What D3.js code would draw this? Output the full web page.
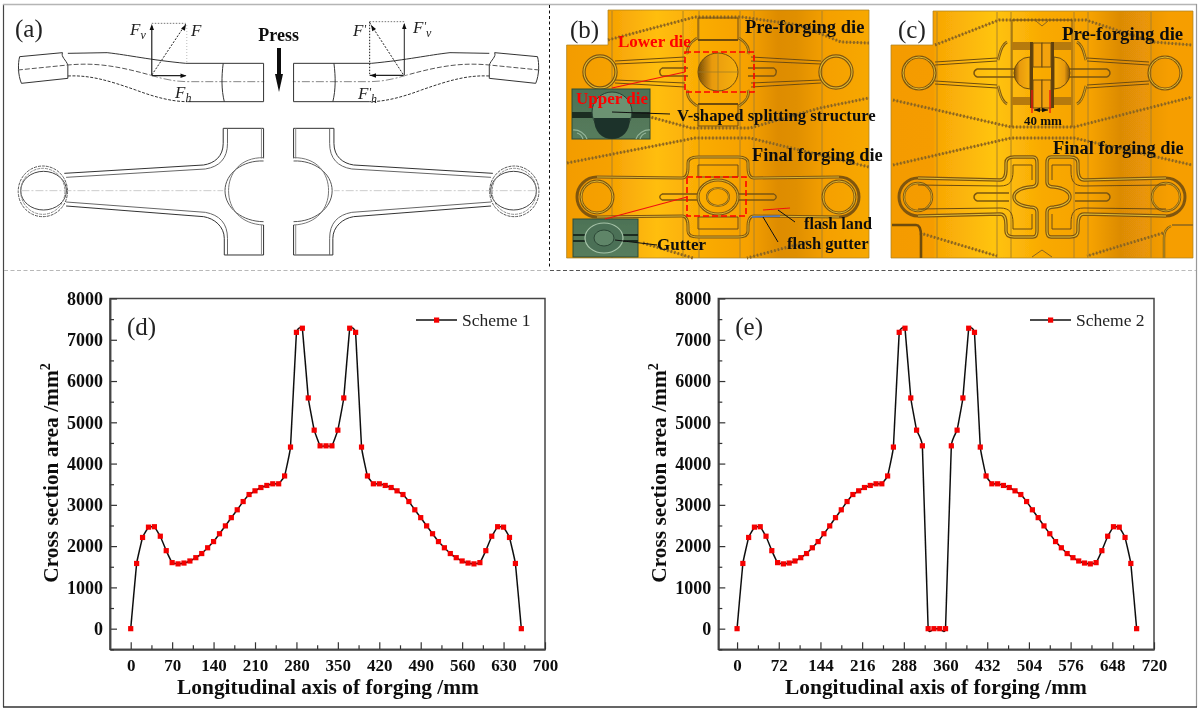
<!DOCTYPE html>
<html><head><meta charset="utf-8">
<script src="https://cdn.jsdelivr.net/npm/d3@7"></script>
<style>
html,body{margin:0;padding:0;background:#fff}
svg{display:block}
text{font-family:"Liberation Serif","Times New Roman",serif}
</style></head><body><svg id="c" width="1200" height="712"></svg>
<script>
// ---------- chart data ----------
const scheme1X=[0,10,20,30,40,50,60,70,80,90,100,110,120,130,140,150,160,170,180,190,200,210,220,230,240,250,260,270,280,290,300,310,320,330,340,350,360,370,380,390,400,410,420,430,440,450,460,470,480,490,500,510,520,530,540,550,560,570,580,590,600,610,620,630,640,650,660];
const scheme1Area=[0,1580,2210,2460,2470,2240,1890,1600,1570,1590,1640,1720,1820,1960,2110,2300,2490,2690,2880,3080,3250,3340,3420,3470,3510,3510,3700,4400,7180,7280,5590,4810,4430,4430,4430,4810,5590,7280,7180,4400,3700,3510,3510,3470,3420,3340,3250,3080,2880,2690,2490,2300,2110,1960,1820,1720,1640,1590,1570,1600,1890,2240,2470,2460,2210,1580,0];
const scheme2X=[0,10,20,30,40,50,60,70,80,90,100,110,120,130,140,150,160,170,180,190,200,210,220,230,240,250,260,270,280,290,300,310,320,330,340,350,360,370,380,390,400,410,420,430,440,450,460,470,480,490,500,510,520,530,540,550,560,570,580,590,600,610,620,630,640,650,660,670,680,690];
const scheme2Area=[0,1580,2210,2460,2470,2240,1890,1600,1570,1590,1640,1720,1820,1960,2110,2300,2490,2690,2880,3080,3250,3340,3420,3470,3510,3510,3700,4400,7180,7280,5590,4810,4430,0,0,0,0,4430,4810,5590,7280,7180,4400,3700,3510,3510,3470,3420,3340,3250,3080,2880,2690,2490,2300,2110,1960,1820,1720,1640,1590,1570,1600,1890,2240,2470,2460,2210,1580,0];
const yTicks=[0,1000,2000,3000,4000,5000,6000,7000,8000];
const yMinor=[-500,500,1500,2500,3500,4500,5500,6500,7500];
const xTicks1=[0,70,140,210,280,350,420,490,560,630,700];
const xMinor1=[35,105,175,245,315,385,455,525,595,665];
const xTicks2=[0,72,144,216,288,360,432,504,576,648,720];
const xMinor2=[36,108,180,252,324,396,468,540,612,684];

const svg=d3.select('#c');
const defs=svg.append('defs');
defs.append('filter').attr('id','soft').attr('x','-2%').attr('y','-2%').attr('width','104%').attr('height','104%')
  .append('feGaussianBlur').attr('stdDeviation',0.5);
const root=svg.append('g').attr('filter','url(#soft)');

function grad(id,x1,x2,stops){
  const g=defs.append('linearGradient').attr('id',id).attr('gradientUnits','userSpaceOnUse')
    .attr('x1',x1).attr('x2',x2).attr('y1',0).attr('y2',0);
  stops.forEach(s=>g.append('stop').attr('offset',s[0]).attr('stop-color',s[1]));
}
grad('gb',566,869,[[0,'#F39C02'],[.14,'#F6A104'],[.3,'#FFBE0E'],[.42,'#FBAE06'],[.6,'#F6A102'],[.7,'#DE8C06'],[.76,'#E08F05'],[.86,'#F5A003'],[1,'#F7A805']]);
grad('gc',891,1193,[[0,'#F49B02'],[.14,'#F59C02'],[.15,'#F8A705'],[.34,'#FFC40C'],[.5,'#F9AA04'],[.66,'#F6A203'],[.76,'#DC8B06'],[.84,'#E99507'],[.92,'#F69E02'],[1,'#F69E02']]);
const gi=defs.append('linearGradient').attr('id','gi').attr('x1',0).attr('x2',0).attr('y1',0).attr('y2',1);
gi.append('stop').attr('offset',0).attr('stop-color','#4D7256');gi.append('stop').attr('offset',1).attr('stop-color','#577C5C');
const gd=defs.append('linearGradient').attr('id','gd').attr('x1',0).attr('x2',1).attr('y1',0).attr('y2',0);
gd.append('stop').attr('offset',0).attr('stop-color','#7A4F06');gd.append('stop').attr('offset',.35).attr('stop-color','#E89A08');gd.append('stop').attr('offset',1).attr('stop-color','#F7B00E');

// ---------- frame ----------
function seg(x1,y1,x2,y2,c,w,dash){root.append('line').attr('x1',x1).attr('y1',y1).attr('x2',x2).attr('y2',y2).attr('stroke',c).attr('stroke-width',w).attr('stroke-dasharray',dash||null);}
seg(3.5,4,3.5,707,'#444',1.2);seg(3,4.5,1197,4.5,'#b5b5b5',1.4);seg(1196.5,4,1196.5,707,'#999',1.2);seg(3,707,1197,707,'#333',1.4);
seg(549.5,5,549.5,268,'#111',1,'3 2.5');
seg(4,270.5,550,270.5,'#b8b8b8',1.2,'4 2.5');seg(550,270.5,1110,270.5,'#555',1.2,'4 2.5');seg(1110,270.5,1196,270.5,'#bbb',1.2,'4 2.5');

// ---------- text helper ----------
function label(x,y,s,o={}){
  return root.append('text').attr('x',x).attr('y',y).text(s)
   .attr('font-size',o.size||17).attr('font-weight',o.bold?'bold':'normal').attr('font-style',o.italic?'italic':'normal')
   .attr('fill',o.fill||'#111').attr('text-anchor',o.anchor||'start');
}

// ---------- panel (a) ----------
const aG=root.append('g');
function aHalf(tr){
  const g=aG.append('g').attr('transform',tr);
  const ln=(d,o={})=>g.append('path').attr('d',d).attr('fill','none').attr('stroke',o.c||'#333').attr('stroke-width',o.w||1)
    .attr('stroke-dasharray',o.dash||null).attr('vector-effect','non-scaling-stroke');
  ln('M55,170L175,158M190,160L300,158C360,165 420,180 520,190L738,190');
  ln('M55,170C50,190 50,225 60,250L190,235M175,158C170,170 185,180 190,195L190,235');
  ln('M190,228C250,225 300,240 380,270C430,290 480,305 525,305',{dash:'3 1.5'});
  ln('M525,305L738,305');
  ln('M50,210L190,195C260,188 320,195 420,225',{dash:'5 2',c:'#555'});
  ln('M420,225C460,238 490,245 530,245L740,245',{dash:'8 2 2 2',c:'#888'});
  ln('M625,190C620,230 620,270 628,305M738,190L738,305');
  // plan view
  ln('M180,520L570,495C600,490 625,470 625,430L625,385L738,385L738,475');
  ln('M185,532L575,507C615,500 637,475 637,430L637,385',{c:'#666'});
  ln('M732,385L732,475',{c:'#888'});
  ln('M738,483C680,480 630,520 630,572C630,625 680,665 738,665',{c:'#555'});
  ln('M738,473C672,472 640,520 640,572C640,625 672,672 738,675',{c:'#777'});
  ln('M738,675L738,765L628,765L628,715C628,680 600,655 570,650L185,618',{});
  ln('M185,606L575,637C615,645 637,670 637,715L637,765',{c:'#666'});
  ln('M732,675L732,765',{c:'#888'});
  ln('M60,572L625,572',{c:'#ccc',dash:'8 2 2 2'});
  g.append('ellipse').attr('cx',122).attr('cy',572).attr('rx',64).attr('ry',58).attr('fill','none').attr('stroke','#444').attr('vector-effect','non-scaling-stroke');
  g.append('ellipse').attr('cx',120).attr('cy',574).attr('rx',69).attr('ry',76).attr('fill','none').attr('stroke','#555').attr('stroke-dasharray','3 1').attr('vector-effect','non-scaling-stroke');
  g.append('ellipse').attr('cx',120).attr('cy',574).attr('rx',62).attr('ry',69).attr('fill','none').attr('stroke','#888').attr('stroke-dasharray','3 1').attr('vector-effect','non-scaling-stroke');
}
aHalf('scale(0.35714,0.33333)');
aHalf('translate(557.14,0) scale(-0.35714,0.33333)');
function aSeg(x1,y1,x2,y2,o={}){seg(x1/2.8,y1/3,x2/2.8,y2/3,o.c||'#222',o.w||1,o.dash);}
function head(x,y,dx,dy){const L=6,W=2.2,n=Math.hypot(dx,dy),ux=dx/n,uy=dy/n;
  root.append('path').attr('fill','#111').attr('d',`M${x},${y}L${x-L*ux-W*uy},${y-L*uy+W*ux}L${x-L*ux+W*uy},${y-L*uy-W*ux}Z`);}
aSeg(425,225,425,78,{w:1.2});aSeg(425,70,520,70,{dash:'1.5 1.5',c:'#777'});aSeg(425,225,520,72,{dash:'2 1.5'});aSeg(425,227,520,227,{w:1.2});aSeg(523,75,523,190,{dash:'1 2',c:'#bbb'});
head(151.8,24,0,-1);head(186,24.5,.5,-.85);head(186.5,75.7,1,0);
aSeg(1035,65,1035,225,{dash:'1.5 1.5'});aSeg(1035,65,1132,65,{dash:'1.5 1.5',c:'#777'});aSeg(1035,68,1130,225,{dash:'2 1.5'});aSeg(1035,226,1130,226,{w:1.2});aSeg(1132,225,1132,72,{w:1});
head(371,25,-.52,-.85);head(404.3,23,0,-1);head(370,75.5,-1,0);
function forceLabel(x,y,base,prime,sub){
  const t=root.append('text').attr('x',x).attr('y',y).attr('font-size',17).attr('font-style','italic').attr('fill','#222');
  t.append('tspan').text(base);
  if(prime)t.append('tspan').text("'").attr('dy',-3).attr('font-size',12);
  if(sub)t.append('tspan').text(sub).attr('dy',prime?7:4).attr('font-size',12);
}
forceLabel(130,35,'F',false,'v');forceLabel(191,36,'F');forceLabel(175,98,'F',false,'h');
forceLabel(353,36,'F',true);forceLabel(413,33,'F',true,'v');forceLabel(358,99,'F',true,'h');
label(278.6,41,'Press',{bold:true,size:18,anchor:'middle'});
root.append('path').attr('fill','#111').attr('d','M277,48L281,48L281,74L283,74L279,92L275,74L277,74Z');
label(15,37,'(a)',{size:25,fill:'#222'});

// ---------- panels (b), (c) ----------
function panelBg(x0,y0,x1,y1,nx,ny,fill){
  root.append('path').attr('fill',fill).attr('stroke','#A8801F').attr('stroke-width',.7)
   .attr('d',`M${nx},${y0}L${x1},${y0}L${x1},${y1}L${x0},${y1}L${x0},${ny}L${nx},${ny}Z`);
}
function verticals(xs,y0,y1){xs.forEach(x=>seg(x,y0,x,y1,'#A5802F',.9));}
const lineP=d3.line().curve(d3.curveLinear);
function hatch(pts){
  root.append('path').attr('d',lineP(pts)).attr('fill','none').attr('stroke','#B0801A').attr('stroke-width',.8);
  root.append('path').attr('d',lineP(pts)).attr('fill','none').attr('stroke','#8A6420').attr('stroke-width',3).attr('stroke-dasharray','1.6 2');
}
function ridgeIn(g,d,w){
  g.append('path').attr('d',d).attr('fill','none').attr('stroke','#80560F').attr('stroke-width',w||3.2);
  g.append('path').attr('d',d).attr('fill','none').attr('stroke','#E3C035').attr('stroke-width',(w||3.2)*.3);
}
function thin(g,d,c,w){g.append('path').attr('d',d).attr('fill','none').attr('stroke',c||'#6E4C10').attr('stroke-width',w||1);}
function circ(r,cx=0,cy=0){return `M${cx-r},${cy}A${r},${r} 0 1 1 ${cx+r},${cy}A${r},${r} 0 1 1 ${cx-r},${cy}Z`;}
function both(cx,cy,fn){
  fn(root.append('g').attr('transform',`translate(${cx},${cy})`));
  fn(root.append('g').attr('transform',`translate(${cx},${cy}) scale(-1,1)`));
}

panelBg(566.6,10,869,258,608,45,'url(#gb)');
panelBg(891,11,1193,258,933,45,'url(#gc)');
verticals([612,683,699,740,754,822],11,258);
verticals([937,997,1011,1074,1088,1151],12,258);

hatch([[608,40],[695,17],[741,17],[799,25],[841,42],[869,43]]);
hatch([[620,110],[654,118],[691,128],[750,128],[820,108],[869,98]]);
hatch([[567,163],[695,138],[750,138],[869,167]]);
hatch([[643,243],[693,258]]);hatch([[807,242],[747,258]]);
hatch([[935,45],[999,20],[1086,20],[1153,42],[1192,45]]);
hatch([[893,100],[1011,127],[1074,127],[1192,97]]);
hatch([[893,165],[1011,138],[1074,138],[1192,165]]);
hatch([[920,233],[997,256]]);hatch([[1163,233],[1087,256]]);
thin(root,'M1036,21L1042,26L1048,21M1032,257L1042,250L1052,257','#8A6420',1);

// pre-forging die (b)
both(718,72,g=>{
  ridgeIn(g,circ(16,-118,0),3.4);
  thin(g,'M-103,-11L-33,-15M-103,-8L-33,-11M-103,11L-33,15M-103,8L-33,11');
  thin(g,'M-20,-54L0,-54M-20,-54L-20,-32M-20,54L0,54M-20,54L-20,32');
  thin(g,'M-20,-32L0,-32M-20,32L0,32','#6E4C10',2);
  ridgeIn(g,'M-21,-34C-27,-30 -32,-24 -30,-18',2.6);
  ridgeIn(g,'M-21,34C-27,30 -32,24 -30,18',2.6);
  thin(g,'M-56,-4L-30,-4M-56,4L-30,4M-56,-4C-59,-2 -59,2 -56,4','#7A5510',1.4);
});
root.append('ellipse').attr('cx',718).attr('cy',72).attr('rx',20).attr('ry',19).attr('fill','url(#gd)').attr('stroke','#6E4C10');
seg(718,53,718,92,'#9a7a30',.7);seg(698,72,738,72,'#9a7a30',.7);
// final-forging die (b)
both(718,197,g=>{
  ridgeIn(g,circ(16,-121,0),3);
  ridgeIn(g,'M-121,-20L-36,-19C-31,-19 -30,-24 -30,-30L-30,-34C-30,-38 -26,-40 -20,-40L0,-40',3);
  ridgeIn(g,'M-121,20L-36,19C-31,19 -30,24 -30,30L-30,34C-30,38 -26,40 -20,40L0,40',3);
  g.append('path').attr('d','M-121,-20A20,20 0 0 0 -121,20').attr('fill','none').attr('stroke','#80560F').attr('stroke-width',3);
  thin(g,'M-20,-32L0,-32M-20,-32L-20,-20M-20,-20L0,-20M-20,32L0,32M-20,32L-20,20M-20,20L0,20');
  thin(g,'M-56,-3L-20,-3M-56,3L-20,3M-56,-3C-59,-1 -59,1 -56,3','#7A5510',1.4);
});
{const g=root.append('g').attr('transform','translate(718,197)');
 ridgeIn(g,'M-20,0A20,17 0 1 1 20,0A20,17 0 1 1 -20,0Z',3);ridgeIn(g,'M-11,0A11,9 0 1 1 11,0A11,9 0 1 1 -11,0Z',2);}

// pre-forging die (c)
both(1042,73,g=>{
  ridgeIn(g,circ(16,-123,0),3.2);
  thin(g,'M-107,-11L-45,-15M-107,-8L-45,-12M-107,11L-45,15M-107,8L-45,12');
  ridgeIn(g,'M-35,-31C-42,-27 -42,-18 -44,-13',2.6);ridgeIn(g,'M-35,31C-42,27 -42,18 -44,13',2.6);
  thin(g,'M-65,-4L-27,-4M-65,4L-27,4M-65,-4C-69,-2 -69,2 -65,4','#7A5510',1.4);
  thin(g,'M-30,-53L-30,54','#7A5510',1);
  thin(g,'M-30,-53L0,-53','#7A5510',1);
  g.append('rect').attr('x',-30).attr('y',-31).attr('width',18).attr('height',8).attr('fill','#B67A0A');
  g.append('rect').attr('x',-30).attr('y',24).attr('width',18).attr('height',8).attr('fill','#B67A0A');
  g.append('path').attr('d','M-12,-16A16,16 0 0 0 -12,16Z').attr('fill','url(#gd)').attr('stroke','#6E4C10');
  g.append('rect').attr('x',-12).attr('y',-31).attr('width',3).attr('height',66).attr('fill','#5E3F0A');
  g.append('rect').attr('x',-9).attr('y',-30).attr('width',9).attr('height',24).attr('fill','#F3A20A').attr('stroke','#6E4C10');
  g.append('rect').attr('x',-9).attr('y',7).attr('width',9).attr('height',28).attr('fill','#F3A20A').attr('stroke','#6E4C10');
});
seg(1032,90,1032,113,'#F01010',1.3);seg(1050,90,1050,113,'#F01010',1.3);
seg(1034,110,1048,110,'#111',1);head(1034,110,-1,0);head(1048,110,1,0);
// final-forging die (c)
both(1042,197,g=>{
  const d='M-124,-19L-42,-17C-37,-17 -36,-22 -36,-28L-36,-34C-36,-38 -33,-40 -28,-40L-9,-40C-6,-40 -5,-38 -5,-34L-5,-15C-5,-11 -8,-10 -12,-10C-22,-9 -28,-5 -28,0C-28,5 -22,9 -12,10C-8,10 -5,11 -5,15L-5,34C-5,38 -6,40 -9,40L-28,40C-33,40 -36,38 -36,34L-36,28C-36,22 -37,17 -42,17L-124,19';
  ridgeIn(g,d,3.4);
  ridgeIn(g,circ(14,-124,0),2.4);
  g.append('path').attr('d','M-124,-19A19,19 0 0 0 -124,19').attr('fill','none').attr('stroke','#80560F').attr('stroke-width',3);
  thin(g,'M-124,-12L-42,-11C-32,-11 -29,-16 -29,-26L-29,-32L-10,-32L-10,-17M-124,12L-42,11C-32,11 -29,16 -29,26L-29,32L-10,32L-10,17','#6E4C10',1);
  thin(g,'M-65,-4L-33,-4M-65,4L-33,4M-65,-4C-69,-2 -69,2 -65,4','#7A5510',1.4);
});
// corner frames (c)
thin(root,'M892,225L916,225C920,225 921,230 921,236L921,258','#6E4C10',2.6);
ridgeIn(root,'M1171,226C1166,228 1164,232 1164,238L1164,258',2.4);
thin(root,'M1172,225L1193,225','#8A6420',1.5);

// insets
root.append('rect').attr('x',572).attr('y',89).attr('width',78).attr('height',50).attr('fill','url(#gi)').attr('stroke','#2F4D3A');
root.append('rect').attr('x',572).attr('y',112).attr('width',78).attr('height',6).attr('fill','#1D2F24');
root.append('ellipse').attr('cx',612).attr('cy',112).attr('rx',20).attr('ry',20).attr('fill','#6C9272').attr('stroke','#274033');
root.append('path').attr('d','M594,118L630,118C630,132 622,139 612,139C602,139 594,132 594,118Z').attr('fill','#1F3329');
root.append('path').attr('d','M573,130A14,14 0 0 1 587,139M577,133A9,9 0 0 1 583,139M650,130A14,14 0 0 0 636,139M646,133A9,9 0 0 0 640,139').attr('fill','none').attr('stroke','#94B59A').attr('stroke-width',1.2);
root.append('rect').attr('x',573).attr('y',219).attr('width',65).attr('height',38).attr('fill','url(#gi)').attr('stroke','#2F4D3A');
root.append('path').attr('d','M573,235L638,235M573,241L638,241').attr('stroke','#1D2F24').attr('stroke-width',2);
root.append('ellipse').attr('cx',604).attr('cy',238).attr('rx',19).attr('ry',15).attr('fill','#4C7056').attr('stroke','#A5C3A8').attr('stroke-width',1.2);
root.append('ellipse').attr('cx',604).attr('cy',238).attr('rx',10).attr('ry',8).attr('fill','#5F8568').attr('stroke','#2A4635').attr('stroke-width',1);

// red / blue guides
function dashRect(x,y,w,h){root.append('rect').attr('x',x).attr('y',y).attr('width',w).attr('height',h).attr('fill','none').attr('stroke','#F00').attr('stroke-width',1.6).attr('stroke-dasharray','6 3');}
dashRect(685,52,69,40);dashRect(687,177,59,39);
seg(612,88,685,72,'#F01010',1.2);seg(605,219,687,197,'#F01010',1.2);
seg(763,210,790,208,'#F01010',1.1);seg(752,217,780,216,'#4A78D0',1.3);
seg(778,210,795,222,'#111',1);seg(763,217,778,242,'#111',1);seg(615,240,657,245,'#111',1);seg(612,112,670,114,'#111',1);

// labels
label(570,38,'(b)',{size:25,fill:'#222'});
label(898,38,'(c)',{size:25,fill:'#222'});
const dl=(x,y,s,o={})=>label(x,y,s,Object.assign({bold:true,size:18.5},o));
dl(745,33,'Pre-forging die');
dl(1062,40,'Pre-forging die',{size:18.8});
dl(752,161,'Final forging die',{size:18.4});
dl(1053,154,'Final forging die',{size:18.4});
dl(618,47,'Lower die',{fill:'#F00',size:17});
dl(576,104,'Upper die',{fill:'#F00',size:17});
dl(677,121,'V-shaped splitting structure',{size:16.7});
dl(657,250,'Gutter',{size:17});
dl(804,229,'flash land',{size:16.2});
dl(787,249,'flash gutter',{size:16.6});
dl(1024,125,'40 mm',{size:13});

// ---------- line charts ----------
function chart(o){
  const x=d3.scaleLinear().domain(o.xDomain).range([o.left,o.right]);
  const y=d3.scaleLinear().domain([-500,8000]).range([649.3,298.5]);
  const g=root.append('g');
  g.append('rect').attr('x',o.left).attr('y',298.5).attr('width',o.right-o.left).attr('height',350.8).attr('fill','none').attr('stroke','#444').attr('stroke-width',1.5);
  const ax=g.append('g').attr('transform','translate(0,649.3)')
    .call(d3.axisBottom(x).tickValues(o.xTicks).tickFormat(d3.format('d')).tickSizeInner(-7).tickSizeOuter(0).tickPadding(10));
  const ay=g.append('g').attr('transform',`translate(${o.left},0)`)
    .call(d3.axisLeft(y).tickValues(yTicks).tickFormat(d3.format('d')).tickSizeInner(-7).tickSizeOuter(0).tickPadding(7));
  const mx=g.append('g').attr('transform','translate(0,649.3)').call(d3.axisBottom(x).tickValues(o.xMinor).tickFormat('').tickSizeInner(-4).tickSizeOuter(0));
  const my=g.append('g').attr('transform',`translate(${o.left},0)`).call(d3.axisLeft(y).tickValues(yMinor).tickFormat('').tickSizeInner(-4).tickSizeOuter(0));
  [ax,ay,mx,my].forEach(a=>{a.select('.domain').attr('stroke','#444').attr('stroke-width',1.5);a.selectAll('line').attr('stroke','#333').attr('stroke-width',1.2);
    a.selectAll('text').attr('font-family','"Liberation Serif",serif').attr('font-weight','bold').attr('fill','#111');});
  ax.selectAll('text').attr('font-size',17);ay.selectAll('text').attr('font-size',18);
  const pts=o.xs.map((v,i)=>[v,o.ys[i]]);
  g.append('path').attr('d',d3.line().x(d=>x(d[0])).y(d=>y(d[1])).curve(d3.curveCardinal.tension(0.8))(pts)).attr('fill','none').attr('stroke','#111').attr('stroke-width',1.5);
  g.selectAll('rect.m').data(pts).join('rect').attr('class','m').attr('x',d=>x(d[0])-2.6).attr('y',d=>y(d[1])-2.6).attr('width',5.2).attr('height',5.2).attr('fill','#F50000');
  // legend
  g.append('line').attr('x1',o.legX).attr('x2',o.legX+41).attr('y1',320).attr('y2',320).attr('stroke','#111').attr('stroke-width',1.5);
  g.append('rect').attr('x',o.legX+18).attr('y',317.5).attr('width',5.2).attr('height',5.2).attr('fill','#F50000');
  label(o.legX+46,326,o.name,{size:17.5,fill:'#222'});
  label(o.left+17,335,o.tag,{size:25,fill:'#222'});
  label(o.titleX,694,'Longitudinal axis of forging /mm',{bold:true,size:21.4,anchor:'middle'});
  const t=root.append('text').attr('transform',`translate(${o.left-52},473) rotate(-90)`).attr('text-anchor','middle').attr('font-size',21.4).attr('font-weight','bold').attr('fill','#111');
  t.append('tspan').text('Cross section area /mm');
  t.append('tspan').text('2').attr('font-size',14).attr('dy',-8);
}
chart({left:110,right:545,xDomain:[-35,700],xTicks:xTicks1,xMinor:xMinor1,xs:scheme1X,ys:scheme1Area,name:'Scheme 1',tag:'(d)',legX:416,titleX:328});
chart({left:718.3,right:1154,xDomain:[-32.4,720],xTicks:xTicks2,xMinor:xMinor2,xs:scheme2X,ys:scheme2Area,name:'Scheme 2',tag:'(e)',legX:1030,titleX:936});
</script></body></html>
